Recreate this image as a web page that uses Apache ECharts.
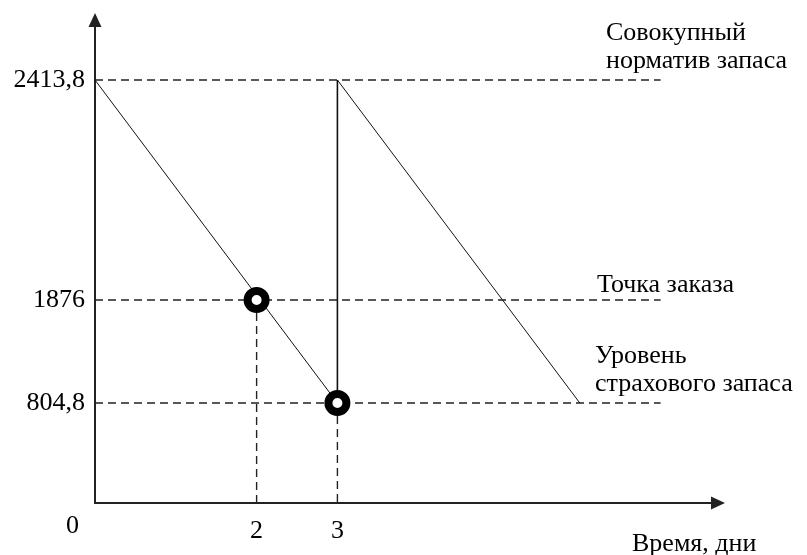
<!DOCTYPE html>
<html>
<head>
<meta charset="utf-8">
<script src="https://cdn.jsdelivr.net/npm/echarts@6.0.0/dist/echarts.min.js"></script>
<style>
  html, body { margin: 0; padding: 0; background: #fff; }
  #chart { width: 807px; height: 555px; }
</style>
</head>
<body>
<div id="chart"></div>
<script>
    // schematic stock levels (chart is not to scale), labels shown on the axis
    var levelNames = ['804,8', '1876', '2413,8'];
    var levelValues = [100, 203, 423];
    var dayTicks = [2, 3];
    var cycleStart = [0, 3];      // day the stock is at the top level
    var cycleEnd = [3, 6];        // day the stock reaches safety level
    var orderDay = 2;
    var lineEnd = 7;

    var FONT = "'Liberation Serif', 'Times New Roman', serif";
    var myChart = echarts.init(document.getElementById('chart'));

    var lvLow = levelValues[0], lvMid = levelValues[1], lvTop = levelValues[2];

    function dashed(data) {
        return {
            type: 'line', data: data, symbol: 'none', silent: true,
            lineStyle: { color: '#222', width: 1.4, type: [8, 5] }
        };
    }
    function solid(data, w) {
        return {
            type: 'line', data: data, symbol: 'none', silent: true,
            lineStyle: { color: '#111', width: w }
        };
    }

    var series = [];
    for (var i = 0; i < levelValues.length; i++) {
        series.push(dashed([[0, levelValues[i]], [lineEnd, levelValues[i]]]));
    }
    series.push(dashed([[orderDay, lvMid], [orderDay, 0]]));
    series.push(dashed([[cycleEnd[0], lvLow], [cycleEnd[0], 0]]));
    for (var j = 0; j < cycleStart.length; j++) {
        series.push(solid([[cycleStart[j], lvTop], [cycleEnd[j], lvLow]], 1));
    }
    series.push(solid([[cycleEnd[0], lvTop], [cycleEnd[0], lvLow]], 1.6));
    series.push({
        type: 'scatter', silent: true,
        data: [[orderDay, lvMid], [cycleEnd[0], lvLow]],
        symbol: 'circle', symbolSize: 18,
        itemStyle: { color: '#fff', borderColor: '#000', borderWidth: 8, opacity: 1 },
        z: 5
    });

    function txt(x, y, s) {
        return {
            type: 'text', left: x, top: y,
            style: { text: s, font: '26px ' + FONT, fill: '#000' }
        };
    }

    var option = {
        animation: false,
        grid: { left: 95, right: 89, top: 20, bottom: 52 },
        xAxis: {
            type: 'value', min: 0, max: 7.71,
            splitLine: { show: false },
            axisTick: { show: false },
            axisLine: {
                lineStyle: { color: '#222', width: 2 },
                symbol: ['none', 'triangle'], symbolSize: [13, 14]
            },
            axisLabel: {
                customValues: dayTicks, margin: 15,
                fontFamily: FONT, fontSize: 26, color: '#000'
            }
        },
        yAxis: {
            type: 'value', min: 0, max: 483,
            splitLine: { show: false },
            axisTick: { show: false },
            axisLine: {
                lineStyle: { color: '#222', width: 2 },
                symbol: ['none', 'triangle'], symbolSize: [13, 14]
            },
            axisLabel: {
                customValues: levelValues, margin: 10,
                fontFamily: FONT, fontSize: 26, color: '#000',
                formatter: function (v) {
                    var k = levelValues.indexOf(v);
                    return k >= 0 ? levelNames[k] : '';
                }
            }
        },
        graphic: [
            txt(66, 513, '0'),
            txt(606, 20, 'Совокупный'),
            txt(606, 48, 'норматив запаса'),
            txt(597, 272, 'Точка заказа'),
            txt(595, 343, 'Уровень'),
            txt(595, 371, 'страхового запаса'),
            txt(632, 531, 'Время, дни')
        ],
        series: series
    };

    if (option && typeof option === "object") {
        myChart.setOption(option, true);
    }
</script>
</body>
</html>
